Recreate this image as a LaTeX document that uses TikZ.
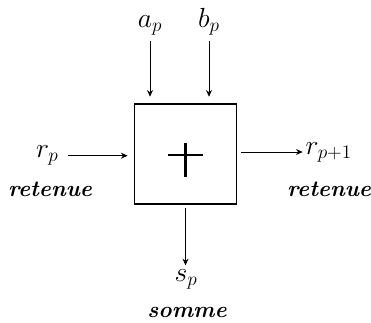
\documentclass[tikz,border=0pt]{standalone}
\usepackage{amsmath,amssymb}
\usepackage{tikz}
\usetikzlibrary{arrows.meta}
\usepackage{xcolor}

\begin{document}
\begin{tikzpicture}[x=0.75pt,y=-0.75pt,>={Stealth[length=5pt,width=4.5pt]},
  adder/.style={draw,line width=0.9pt,minimum width=77pt,minimum height=75pt,inner sep=0pt},
  sig/.style={inner sep=1pt,font=\fontsize{22}{24}\selectfont},
  word/.style={inner sep=1pt,font=\fontsize{17}{19}\selectfont\bfseries\itshape},
  wire/.style={->,line width=0.7pt}]
\useasboundingbox (0,0) rectangle (371,322);
\node[adder] (add) at (185.5,154) {};
\draw[line width=2.2pt] (add.center) +(-17.5,1) -- +(17.5,1)
  (add.center) +(0,-11) -- +(0,23);
\node[sig,anchor=south] (ap) at (150,37) {$a_p$};
\node[sig,anchor=south] (bp) at (209,37) {$b_p$};
\node[sig,anchor=east] (rin) at (60,155.7) {$r_p$};
\node[word] (rinlbl) at (50,189) {retenue};
\node[sig,anchor=west] (rout) at (304,152) {$r_{p+1}$};
\node[word] (routlbl) at (329,189) {retenue};
\node[sig,anchor=north] (sp) at (186,268) {$s_p$};
\node[word] (sumlbl) at (187,312) {somme};
\draw[wire,shorten <=3pt,shorten >=5pt] (ap.south) -- (ap.south |- add.north);
\draw[wire,shorten <=3pt,shorten >=5pt] (bp.south) -- (bp.south |- add.north);
\draw[wire,shorten <=6pt,shorten >=4.5pt] (rin.east) -- (rin.east -| add.west);
\draw[wire,shorten <=3pt,shorten >=1pt] (add.east |- rout.west) -- (rout.west);
\draw[wire,shorten <=2.5pt,shorten >=2pt] (add.south) -- (add.south |- sp.north);
\end{tikzpicture}
\end{document}
